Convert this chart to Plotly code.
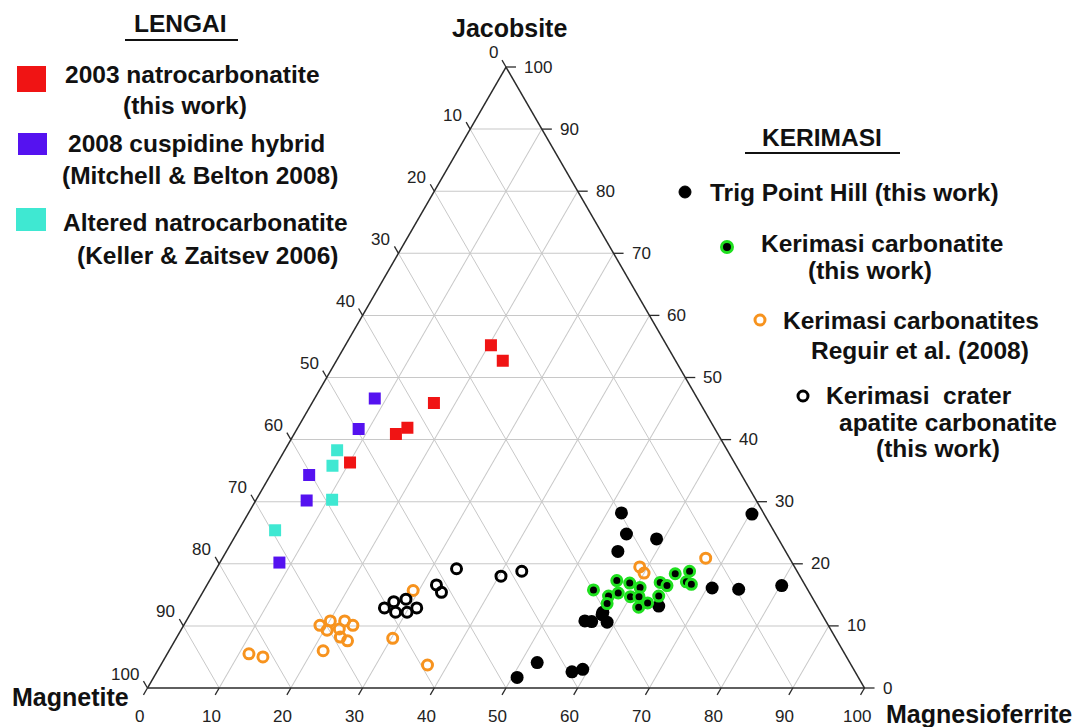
import math
import plotly.graph_objects as go

# ---------------- data (percent: Jacobsite, Magnetite, Magnesioferrite) ----------------
red_jac = [55.2, 52.7, 45.9, 41.9, 40.9, 36.3]
red_mgf = [20.3, 23.2, 17.0, 15.3, 14.2, 10.1]
red_mag = [24.5, 24.1, 37.1, 42.8, 44.9, 53.6]

purple_jac = [46.6, 41.7, 34.3, 30.2, 20.2]
purple_mgf = [8.4, 8.6, 5.4, 7.1, 8.3]
purple_mag = [45.0, 49.7, 60.3, 62.7, 71.5]

cyan_jac = [38.3, 35.8, 30.3, 25.4]
cyan_mgf = [7.3, 7.9, 10.6, 5.1]
cyan_mag = [54.4, 56.3, 59.1, 69.5]

orange_jac = [15.7, 10.1, 10.8, 9.3, 9.5, 10.8, 10.1, 8.2, 7.6, 8.0, 6.0, 5.5, 5.0, 3.7, 19.5, 18.5, 20.9]
orange_mgf = [29.2, 19.0, 20.1, 20.4, 22.0, 22.1, 23.6, 22.8, 24.1, 30.2, 21.5, 11.4, 13.6, 37.2, 58.9, 60.0, 67.4]
orange_mag = [55.1, 70.9, 69.1, 70.3, 68.5, 67.1, 66.3, 69.0, 68.3, 61.8, 72.5, 83.1, 81.4, 59.1, 21.6, 21.5, 11.7]

crater_jac = [12.9, 13.9, 12.2, 14.3, 12.2, 12.9, 16.6, 15.4, 19.2, 18.0, 18.8]
crater_mgf = [26.6, 27.4, 28.5, 28.9, 30.1, 31.1, 32.0, 33.3, 33.5, 40.3, 42.8]
crater_mag = [60.5, 58.7, 59.3, 56.8, 57.7, 56.0, 51.4, 51.3, 47.3, 41.7, 38.4]

trig_jac = [28.2, 24.8, 24.0, 22.0, 28.0, 16.1, 15.9, 16.5, 13.2, 10.8, 10.7, 11.8, 10.6, 12.2, 1.7, 4.1, 2.6, 3.0]
trig_mgf = [52.0, 54.4, 59.0, 54.6, 70.3, 70.7, 74.5, 80.2, 64.7, 55.6, 56.6, 57.5, 58.8, 57.4, 50.7, 52.3, 57.9, 59.2]
trig_mag = [19.8, 20.8, 17.0, 23.4, 1.7, 13.2, 9.6, 3.3, 22.1, 33.6, 32.7, 30.7, 30.6, 30.4, 47.6, 43.6, 39.5, 37.8]

green_jac = [15.8, 14.8, 13.6, 17.3, 15.3, 16.9, 14.7, 16.2, 14.7, 13.0, 13.7, 17.0, 16.5, 14.8, 18.4, 18.8, 17.1, 16.7]
green_mgf = [54.3, 56.9, 57.3, 56.8, 58.0, 58.8, 60.0, 60.6, 61.2, 62.0, 62.9, 63.0, 64.2, 63.9, 64.4, 66.2, 66.6, 67.5]
green_mag = [29.9, 28.3, 29.1, 25.9, 26.7, 24.3, 25.3, 23.2, 24.1, 25.0, 23.4, 20.0, 19.3, 21.3, 17.2, 15.0, 16.3, 15.8]

tick_values = [0, 10, 20, 30, 40, 50, 60, 70, 80, 90, 100]

# ---------------- geometry ----------------
FW, FH = 1073, 727
ML, MR, MT, MB = 147, 208, 67, 39
PW, PH = FW - ML - MR, FH - MT - MB
SQ3 = math.sqrt(3)
TW = min(PW, PH * 2 / SQ3)
TH = TW * SQ3 / 2
TX0 = ML + (PW - TW) / 2
TYB = MT + (PH - TH) / 2 + TH


def tern_px(a, c):
    """pixel position of a ternary point (a = Jacobsite, c = Magnesioferrite)."""
    return TX0 + TW * (c + a / 2) / 100, TYB - TH * a / 100


def paper(x, y):
    return (x - ML) / PW, (FH - MB - y) / PH


fig = go.Figure()

GREY_TXT = "#222222"

series = [
    dict(a=red_jac, b=red_mag, c=red_mgf, marker=dict(symbol="square", size=12, color="#f01414")),
    dict(a=purple_jac, b=purple_mag, c=purple_mgf, marker=dict(symbol="square", size=12, color="#5512f0")),
    dict(a=cyan_jac, b=cyan_mag, c=cyan_mgf, marker=dict(symbol="square", size=12, color="#3fe8d2")),
    dict(a=orange_jac, b=orange_mag, c=orange_mgf,
         marker=dict(symbol="circle-open", size=10, color="#f7931e", line=dict(width=3, color="#f7931e"))),
    dict(a=crater_jac, b=crater_mag, c=crater_mgf,
         marker=dict(symbol="circle-open", size=10, color="black", line=dict(width=3, color="black"))),
    dict(a=trig_jac, b=trig_mag, c=trig_mgf, marker=dict(symbol="circle", size=13, color="black")),
    dict(a=green_jac, b=green_mag, c=green_mgf,
         marker=dict(symbol="circle", size=10, color="black", line=dict(width=3, color="#1fe01f"))),
]
for s in series:
    fig.add_trace(go.Scatterternary(a=s["a"], b=s["b"], c=s["c"], mode="markers",
                                    marker=s["marker"], hoverinfo="skip", showlegend=False))

axis_common = dict(title=dict(text=""), showticklabels=False, ticks="", linecolor="#2a2a2a", linewidth=1.5,
                   showgrid=True, gridcolor="#c8c8c8", gridwidth=1,
                   tickmode="linear", tick0=0, dtick=10, min=0)

annotations = []
shapes = []
TICK_FONT = dict(family="Liberation Sans, Arial, sans-serif", size=17, color=GREY_TXT)
TL = 8
for v in tick_values:
    # bottom edge: Magnesioferrite = v
    x, y = tern_px(0, v)
    x2, y2 = x - 0.5 * TL, y + SQ3 / 2 * TL
    p1, p2 = paper(x, y), paper(x2, y2)
    shapes.append(dict(type="line", xref="paper", yref="paper", x0=p1[0], y0=p1[1], x1=p2[0], y1=p2[1],
                       line=dict(color="#2a2a2a", width=1.3)))
    pl = paper(x - 8, y + 28)
    annotations.append(dict(x=pl[0], y=pl[1], xref="paper", yref="paper", text=str(v), showarrow=False,
                            xanchor="center", yanchor="middle", font=TICK_FONT))
    # left edge: Magnetite = v  (Jacobsite = 100 - v, Magnesioferrite = 0)
    x, y = tern_px(100 - v, 0)
    x2, y2 = x - 0.5 * TL, y - SQ3 / 2 * TL
    p1, p2 = paper(x, y), paper(x2, y2)
    shapes.append(dict(type="line", xref="paper", yref="paper", x0=p1[0], y0=p1[1], x1=p2[0], y1=p2[1],
                       line=dict(color="#2a2a2a", width=1.3)))
    pl = paper(x - 6, y - 14)
    annotations.append(dict(x=pl[0], y=pl[1], xref="paper", yref="paper", text=str(v), showarrow=False,
                            xanchor="right", yanchor="middle", font=TICK_FONT))
    # right edge: Jacobsite = v (Magnetite = 0)
    x, y = tern_px(v, 100 - v)
    x2, y2 = x + 10, y
    p1, p2 = paper(x, y), paper(x2, y2)
    shapes.append(dict(type="line", xref="paper", yref="paper", x0=p1[0], y0=p1[1], x1=p2[0], y1=p2[1],
                       line=dict(color="#2a2a2a", width=1.3)))
    pl = paper(x + 16, y)
    annotations.append(dict(x=pl[0], y=pl[1], xref="paper", yref="paper", text=str(v), showarrow=False,
                            xanchor="left", yanchor="middle", font=TICK_FONT))

TITLE_FONT = dict(family="Liberation Sans, Arial, sans-serif", size=25, color="#111111", weight="bold")
LEG_FONT = dict(family="Liberation Sans, Arial, sans-serif", size=24.5, color="#111111", weight="bold")


def add_text(px, py, text, font, xanchor="center"):
    p = paper(px, py)
    annotations.append(dict(x=p[0], y=p[1], xref="paper", yref="paper", text=text, showarrow=False,
                            xanchor=xanchor, yanchor="middle", font=font))


# vertex titles
add_text(509, 28, "Jacobsite", TITLE_FONT)
add_text(70, 697, "Magnetite", TITLE_FONT)
add_text(884, 714, "Magnesioferrite", TITLE_FONT, xanchor="left")

# ---- left legend (LENGAI)
add_text(180, 24, "LENGAI", LEG_FONT)
add_text(192, 75, "2003 natrocarbonatite", LEG_FONT)
add_text(185, 105, "(this work)", LEG_FONT)
add_text(196, 143, "2008 cuspidine hybrid", LEG_FONT)
add_text(200, 175, "(Mitchell & Belton 2008)", LEG_FONT)
add_text(205, 222, "Altered natrocarbonatite", LEG_FONT)
add_text(207, 255, "(Keller & Zaitsev 2006)", LEG_FONT)

# ---- right legend (KERIMASI)
add_text(822, 138, "KERIMASI", LEG_FONT)
add_text(708, 192, "Trig Point Hill (this work)", LEG_FONT, xanchor="left")
add_text(882, 243, "Kerimasi carbonatite", LEG_FONT)
add_text(870, 270, "(this work)", LEG_FONT)
add_text(911, 320, "Kerimasi carbonatites", LEG_FONT)
add_text(920, 350, "Reguir et al. (2008)", LEG_FONT)
add_text(919, 395, "Kerimasi  crater", LEG_FONT)
add_text(948, 422, "apatite carbonatite", LEG_FONT)
add_text(938, 448, "(this work)", LEG_FONT)


def add_line(x0, y0, x1, y1, color="#111111", width=2):
    p1, p2 = paper(x0, y0), paper(x1, y1)
    shapes.append(dict(type="line", xref="paper", yref="paper", x0=p1[0], y0=p1[1], x1=p2[0], y1=p2[1],
                       line=dict(color=color, width=width)))


def add_rect(x0, y0, x1, y1, color):
    p1, p2 = paper(x0, y0), paper(x1, y1)
    shapes.append(dict(type="rect", xref="paper", yref="paper", x0=p1[0], y0=p2[1], x1=p2[0], y1=p1[1],
                       fillcolor=color, line=dict(width=0)))


def add_circle(cx, cy, r, fill, line_color, line_width):
    p1, p2 = paper(cx - r, cy + r), paper(cx + r, cy - r)
    shapes.append(dict(type="circle", xref="paper", yref="paper", x0=p1[0], y0=p1[1], x1=p2[0], y1=p2[1],
                       fillcolor=fill, line=dict(color=line_color, width=line_width)))


add_line(125, 40, 238, 40)
add_line(745, 153, 900, 153)
add_rect(17, 66, 46, 92, "#f01414")
add_rect(18, 133, 47, 155, "#5512f0")
add_rect(16, 208, 46, 231, "#3fe8d2")
add_circle(685, 192, 6, "black", "black", 1)
add_circle(727, 247, 5.5, "black", "#1fe01f", 3)
add_circle(760, 320, 5, "rgba(0,0,0,0)", "#f7931e", 3)
add_circle(803, 396, 5, "rgba(0,0,0,0)", "black", 3)

fig.update_layout(
    width=FW, height=FH,
    margin=dict(l=ML, r=MR, t=MT, b=MB, pad=0),
    paper_bgcolor="white",
    plot_bgcolor="white",
    showlegend=False,
    hovermode=False,
    ternary=dict(
        sum=100,
        bgcolor="white",
        domain=dict(x=[0, 1], y=[0, 1]),
        aaxis=dict(axis_common),
        baxis=dict(axis_common),
        caxis=dict(axis_common),
    ),
    annotations=annotations,
    shapes=shapes,
)

fig.write_html("out.html")
